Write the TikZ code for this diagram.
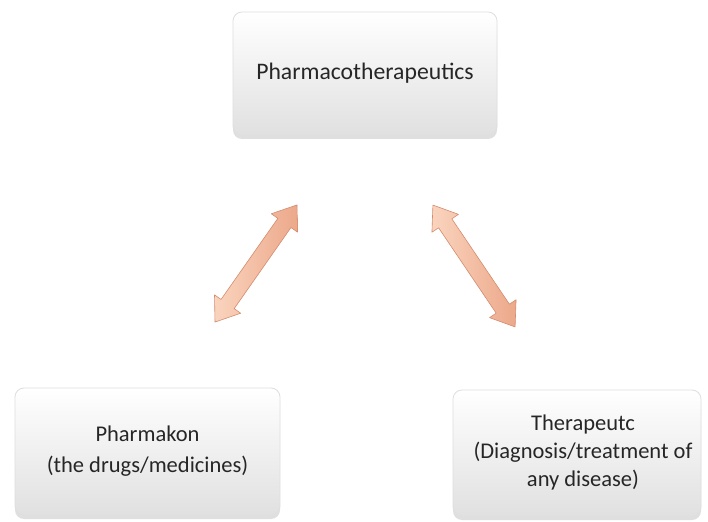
\documentclass[tikz,border=0pt]{standalone}
\usepackage{fontspec}
\setmainfont{Carlito}
\usetikzlibrary{shadows}
\definecolor{peach}{RGB}{236,168,138}
\definecolor{peachlight}{RGB}{250,212,190}
\definecolor{peachdark}{RGB}{212,140,110}
\tikzset{
  box/.style={rounded corners=9pt, draw=gray!25, line width=0.8pt,
    top color=white, bottom color=gray!24, align=center,
    font=\fontsize{22.5}{31}\selectfont, text=black!85, inner sep=0pt,
    drop shadow={shadow xshift=0pt, shadow yshift=-4pt, opacity=0.35, fill=gray!70}},
  fatarrow/.style={draw=peachdark, line width=0.6pt, line join=round,
    left color=peachlight, right color=peach},
}
\begin{document}
\begin{tikzpicture}[x=1pt,y=1pt]
\useasboundingbox (0,0) rectangle (708,521);
\fill[white] (0,0) rectangle (708,521);
\node[box, minimum width=264pt, minimum height=123pt, font=\fontsize{23.7}{31}\selectfont] (top) at (365,447.5) {Pharmacotherapeutics};
\node[box, minimum width=265pt, minimum height=127pt] (left) at (147.5,69.5) {Pharmakon\\(the drugs/medicines)};
\node[box, minimum width=248pt, minimum height=126pt, font=\fontsize{22.5}{28}\selectfont] (right) at (577,68) {\hspace*{12pt}Therapeutc\\\hspace*{12pt}(Diagnosis/treatment of\\\hspace*{12pt}any disease)};
% left double arrow
\begin{scope}[shift={(256,257.5)}, rotate=55]
\coordinate (la) at (-71.5,0);
\coordinate (lb) at (71.5,0);
\draw[fatarrow] (la) -- (-49.5,16) -- (-49.5,8) -- (49.5,8) -- (49.5,16) -- (lb) -- (49.5,-16) -- (49.5,-8) -- (-49.5,-8) -- (-49.5,-16) -- cycle;
\end{scope}
% right double arrow
\begin{scope}[shift={(474,255)}, rotate=-56]
\coordinate (ra) at (-73.5,0);
\coordinate (rb) at (73.5,0);
\draw[fatarrow] (ra) -- (-51.5,16) -- (-51.5,8) -- (51.5,8) -- (51.5,16) -- (rb) -- (51.5,-16) -- (51.5,-8) -- (-51.5,-8) -- (-51.5,-16) -- cycle;
\end{scope}
\end{tikzpicture}
\end{document}
